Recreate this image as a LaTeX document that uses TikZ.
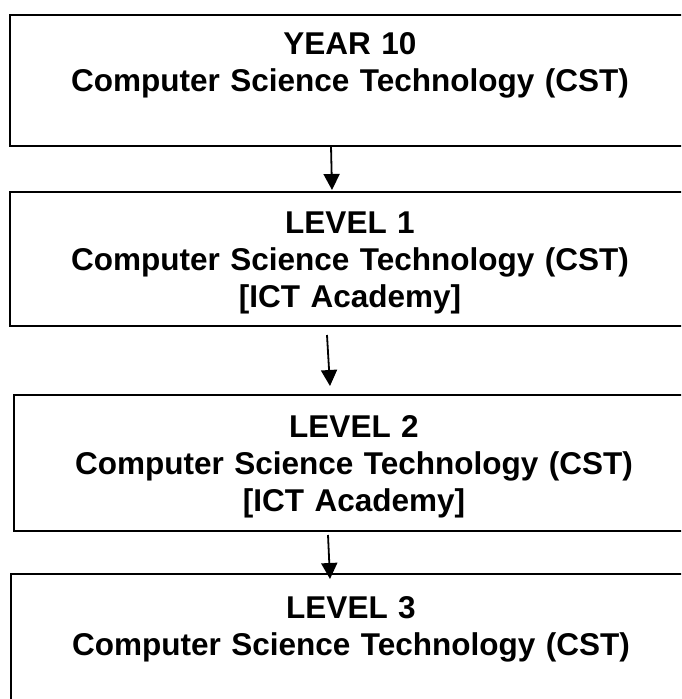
\documentclass[tikz,border=0pt]{standalone}
\usepackage{fontspec}
\setmainfont{Liberation Sans}
\usetikzlibrary{arrows.meta}

\tikzset{
	stage/.style={draw, line width=2.4pt, anchor=north, align=center,
		text width=660pt, inner xsep=10pt, inner ysep=0pt,
		text height=29pt, text depth=81pt,
		font=\fontsize{31.5}{37}\selectfont\bfseries},
	flow/.style={line width=1.8pt, -{Triangle[length=16pt,width=16pt]}}
}

\begin{document}
\begin{tikzpicture}[x=1pt, y=-1pt]
			%%%%% START %%%%%
			\useasboundingbox (0, 0) rectangle (681, 699);
			\clip (0, 0) rectangle (681, 699);
			
			\node[stage, minimum height=131pt] (year10) at (350, 14) {YEAR 10\\Computer Science Technology (CST)\\\mbox{}};
			\node[stage, minimum height=134pt] (level1) at (350, 191) {LEVEL 1\\Computer Science Technology (CST)\\{[ICT Academy]}};
			\node[stage, minimum height=136pt] (level2) at (354, 394) {LEVEL 2\\Computer Science Technology (CST)\\{[ICT Academy]}};
			\node[stage, minimum height=140pt] (level3) at (351, 573) {LEVEL 3\\Computer Science Technology (CST)\\\mbox{}};
			
			\coordinate (year10out) at (331, 146);
			\coordinate (level1in) at (332, 190);
			\coordinate (level1out) at (327, 335);
			\coordinate (level2in) at (330, 386);
			\coordinate (level2out) at (328, 535);
			\coordinate (level3in) at (330, 579);
			
			\draw[flow] (year10out) -- (level1in);
			\draw[flow] (level1out) -- (level2in);
			\draw[flow] (level2out) -- (level3in);
			
			%%%%% END %%%%%
\end{tikzpicture}
\end{document}
